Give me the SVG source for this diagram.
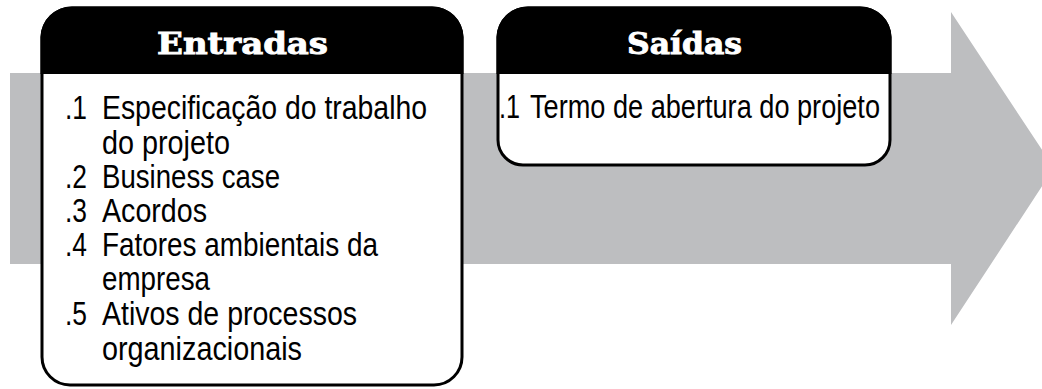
<svg xmlns="http://www.w3.org/2000/svg" width="1042" height="389" viewBox="0 0 1042 389">
<style>
.arrow{fill:#bdbec0}
.box{fill:#ffffff;stroke:#000000;stroke-width:3}
.head{fill:#000000}
.title{font-family:"DejaVu Serif",serif;font-weight:bold;font-size:30px;fill:#ffffff;stroke:#ffffff;stroke-width:0.9}
.item{font-family:"Liberation Sans Narrow","Liberation Sans",sans-serif;font-size:33px;fill:#000000}
</style>
<rect width="1042" height="389" fill="#ffffff"/>
<g id="arrow">
<polygon class="arrow" points="10,73 951,73 951,12 1054,168 951,325 951,264 10,264"/>
</g>
<g id="entradas">
<path class="box" d="M42,37 A30,30 0 0 1 72,8 L432,8 A30,30 0 0 1 462,37 L462,357 A28,28 0 0 1 434,385 L70,385 A28,28 0 0 1 42,357 Z"/>
<path class="head" d="M40.5,37 A31.5,31.5 0 0 1 72,6.5 L432,6.5 A31.5,31.5 0 0 1 463.5,37 L463.5,74 L40.5,74 Z"/>
<text class="title" x="157" y="54" textLength="171" lengthAdjust="spacingAndGlyphs">Entradas</text>
<text class="item" x="65" y="119" textLength="22" lengthAdjust="spacingAndGlyphs">.1</text><text class="item" x="102" y="119" textLength="325" lengthAdjust="spacingAndGlyphs">Especificação do trabalho</text>
<text class="item" x="102" y="154" textLength="128" lengthAdjust="spacingAndGlyphs">do projeto</text>
<text class="item" x="65" y="188" textLength="22" lengthAdjust="spacingAndGlyphs">.2</text><text class="item" x="102" y="188" textLength="178" lengthAdjust="spacingAndGlyphs">Business case</text>
<text class="item" x="65" y="222" textLength="22" lengthAdjust="spacingAndGlyphs">.3</text><text class="item" x="102" y="222" textLength="105" lengthAdjust="spacingAndGlyphs">Acordos</text>
<text class="item" x="65" y="256" textLength="22" lengthAdjust="spacingAndGlyphs">.4</text><text class="item" x="102" y="256" textLength="276" lengthAdjust="spacingAndGlyphs">Fatores ambientais da</text>
<text class="item" x="102" y="290" textLength="108" lengthAdjust="spacingAndGlyphs">empresa</text>
<text class="item" x="65" y="325" textLength="22" lengthAdjust="spacingAndGlyphs">.5</text><text class="item" x="102" y="325" textLength="255" lengthAdjust="spacingAndGlyphs">Ativos de processos</text>
<text class="item" x="102" y="360" textLength="200" lengthAdjust="spacingAndGlyphs">organizacionais</text>
</g>
<g id="saidas">
<path class="box" d="M498,37 A30,30 0 0 1 528,8 L860,8 A30,30 0 0 1 890,37 L890,140 A25,25 0 0 1 865,165 L523,165 A25,25 0 0 1 498,140 Z"/>
<path class="head" d="M496.5,37 A31.5,31.5 0 0 1 528,6.5 L860,6.5 A31.5,31.5 0 0 1 891.5,37 L891.5,74 L496.5,74 Z"/>
<text class="title" x="627" y="54" textLength="115" lengthAdjust="spacingAndGlyphs">Saídas</text>
<text class="item" x="499" y="118" textLength="21" lengthAdjust="spacingAndGlyphs">.1</text><text class="item" x="530" y="118" textLength="350" lengthAdjust="spacingAndGlyphs">Termo de abertura do projeto</text>
</g>
<g id="connectors"/>
</svg>
